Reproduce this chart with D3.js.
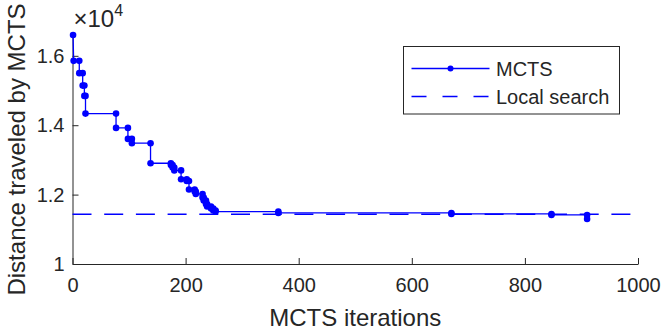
<!DOCTYPE html>
<html>
<head>
<meta charset="utf-8">
<script src="https://cdn.jsdelivr.net/npm/d3@7"></script>
<style>
  body { margin: 0; background: #fff; }
  text { font-family: "Liberation Sans", Arial, Helvetica, sans-serif; fill: #262626; }
</style>
</head>
<body>
<div id="chart"></div>
<script>
// plotted vertices of the MCTS best-so-far curve
const iterations = [1, 2, 12, 12, 18, 18, 21, 21, 23, 23, 77, 77, 98, 98, 105, 105, 138, 138,
  174, 174, 177, 177, 180, 180, 192, 192, 202, 202, 206, 206, 216, 216, 218, 218,
  230, 230, 232, 232, 236, 236, 238, 238, 245, 245, 249, 249, 253, 253,
  364, 364, 670, 670, 847, 847, 910, 910];
const distance = [16600, 15855, 15855, 15500, 15500, 15142, 15142, 14845, 14845, 14335, 14335, 13922,
  13922, 13605, 13605, 13481, 13481, 12904, 12904, 12855, 12855, 12783, 12783, 12697,
  12697, 12443, 12443, 12394, 12394, 12149, 12149, 12091, 12091, 12019, 12019, 11918,
  11918, 11831, 11831, 11730, 11730, 11658, 11658, 11600, 11600, 11543, 11543, 11510,
  11510, 11471, 11471, 11442, 11442, 11413, 11413, 11298];
const localSearch = 11434;
const xTicks = [0, 200, 400, 600, 800, 1000];
const yTicks = [10000, 12000, 14000, 16000];
const legendLabels = ["MCTS", "Local search"];

const width = 664, height = 332;
const margin = {top: 35, right: 26, bottom: 68, left: 72.5};

const svg = d3.select("#chart").append("svg")
  .attr("width", width)
  .attr("height", height);

let x = d3.scaleLinear().domain([0, 1000]).range([margin.left, width - margin.right]);
let y = d3.scaleLinear().domain([10000, 16600]).range([height - margin.bottom, margin.top]);

const axisColor = "#262626";

// x axis, ticks pointing inward
let xAxis = svg.append("g")
  .attr("transform", `translate(0,${y(10000)})`)
  .call(d3.axisBottom(x).tickValues(xTicks).tickSizeInner(-6).tickSizeOuter(0).tickPadding(14)
    .tickFormat(d3.format("d")));
xAxis.select(".domain").attr("stroke", axisColor);
xAxis.selectAll(".tick line").attr("stroke", axisColor);
xAxis.selectAll("text").style("font-size", "20px").attr("fill", axisColor).attr("dy", "0.71em");

let yAxis = svg.append("g")
  .attr("transform", `translate(${x(0)},0)`)
  .call(d3.axisLeft(y).tickValues(yTicks).tickSizeInner(-6).tickSizeOuter(0).tickPadding(8)
    .tickFormat(d => d3.format("~g")(d / 10000)));
yAxis.select(".domain").attr("stroke", axisColor);
yAxis.selectAll(".tick line").attr("stroke", axisColor);
yAxis.selectAll("text").style("font-size", "20px").attr("fill", axisColor);

// exponent label
let expo = svg.append("text")
  .attr("x", x(0) + 1)
  .attr("y", 27)
  .style("font-size", "24px");
expo.append("tspan").text("\u00d710");
expo.append("tspan").attr("dy", -11).style("font-size", "16px").text("4");

// local search reference
svg.append("line")
  .attr("x1", x(0)).attr("x2", x(1000))
  .attr("y1", y(localSearch)).attr("y2", y(localSearch))
  .attr("stroke", "#0000ff")
  .attr("stroke-width", 1.4)
  .attr("stroke-dasharray", "19,12.7");

// MCTS curve
const pts = iterations.map((d, i) => [d, distance[i]]);
let line = d3.line().x(d => x(d[0])).y(d => y(d[1]));
svg.append("path")
  .datum(pts)
  .attr("d", line)
  .attr("fill", "none")
  .attr("stroke", "#0000ff")
  .attr("stroke-width", 1.3);

svg.selectAll(".dot")
  .data(pts)
  .enter()
  .append("circle")
    .attr("class", "dot")
    .attr("cx", d => x(d[0]))
    .attr("cy", d => y(d[1]))
    .attr("r", 3.3)
    .attr("fill", "#0000ff");

// axis labels
svg.append("text")
  .attr("x", (x(0) + x(1000)) / 2)
  .attr("y", 326)
  .style("text-anchor", "middle")
  .style("font-size", "24px")
  .text("MCTS iterations");

svg.append("text")
  .attr("transform", `translate(25,${(y(10000) + y(16600)) / 2}) rotate(-90)`)
  .style("text-anchor", "middle")
  .style("font-size", "24px")
  .text("Distance traveled by MCTS");

// legend
let legend = svg.append("g");
legend.append("rect")
  .attr("x", 403.5).attr("y", 46.5)
  .attr("width", 216).attr("height", 67.5)
  .attr("fill", "#fff")
  .attr("stroke", axisColor)
  .attr("stroke-width", 1);

const rowY = [68.5, 96.5];
legend.append("line")
  .attr("x1", 411.5).attr("x2", 489.5)
  .attr("y1", rowY[0]).attr("y2", rowY[0])
  .attr("stroke", "#0000ff").attr("stroke-width", 1.3);
legend.append("circle")
  .attr("cx", 450.5).attr("cy", rowY[0]).attr("r", 3)
  .attr("fill", "#0000ff");
legend.append("line")
  .attr("x1", 411.5).attr("x2", 489.5)
  .attr("y1", rowY[1]).attr("y2", rowY[1])
  .attr("stroke", "#0000ff").attr("stroke-width", 1.4)
  .attr("stroke-dasharray", "15,16");

legend.selectAll(".lab")
  .data(legendLabels)
  .enter()
  .append("text")
    .attr("class", "lab")
    .attr("x", 496)
    .attr("y", (d, i) => rowY[i])
    .attr("dy", "0.35em")
    .style("font-size", "20px")
    .text(d => d);
</script>
</body>
</html>
